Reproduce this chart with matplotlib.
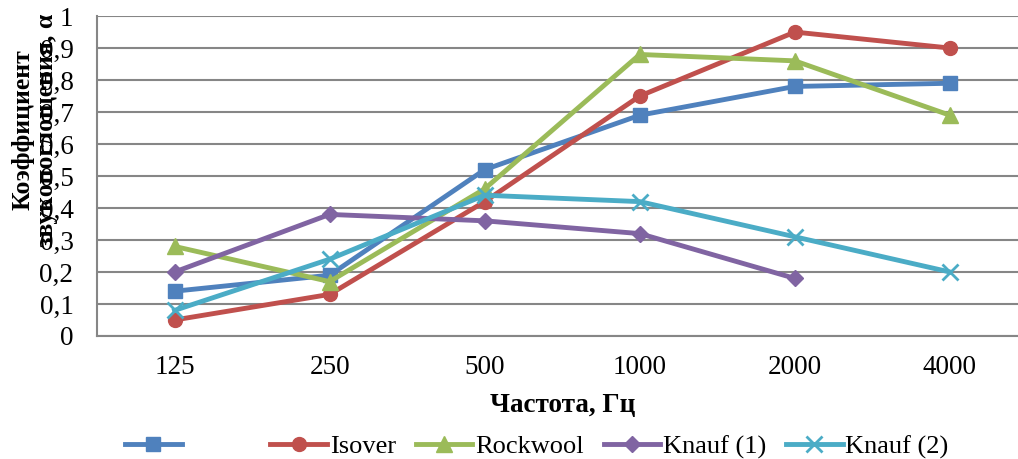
import numpy as np
import matplotlib.pyplot as plt
from matplotlib.ticker import FuncFormatter, MultipleLocator

plt.rcParams['font.family'] = ['Liberation Serif', 'DejaVu Serif']

# Frequencies (category axis)
freqs = ['125', '250', '500', '1000', '2000', '4000']

# Sound absorption coefficients
unnamed = [0.14, 0.19, 0.52, 0.69, 0.78, 0.79]
isover = [0.05, 0.13, 0.42, 0.75, 0.95, 0.90]
rockwool = [0.28, 0.17, 0.46, 0.88, 0.86, 0.69]
knauf1 = [0.20, 0.38, 0.36, 0.32, 0.18, np.nan]
knauf2 = [0.08, 0.24, 0.44, 0.42, 0.31, 0.20]

series = [
    ('          ', unnamed, '#4F81BD', 's', 10),
    ('Isover', isover, '#C0504D', 'o', 10),
    ('Rockwool', rockwool, '#9BBB59', '^', 11),
    ('Knauf (1)', knauf1, '#8064A2', 'D', 8),
    ('Knauf (2)', knauf2, '#4BACC6', 'x', 11),
]

fig = plt.figure(figsize=(10.18, 4.59), dpi=100)
ax = fig.add_axes([0.0953, 0.268, 0.914, 0.697])

x = np.arange(len(freqs))
for label, vals, color, marker, ms in series:
    kw = dict(markeredgecolor=color, markerfacecolor=color)
    if marker == 'x':
        kw['markeredgewidth'] = 2
    ax.plot(x, vals, color=color, linewidth=3.5, marker=marker,
            markersize=ms, label=label, **kw)

ax.set_xlim(-0.5, len(freqs) - 0.5)
ax.set_ylim(0, 1)
ax.set_xticks(x)
ax.set_xticklabels(freqs)
ax.yaxis.set_major_locator(MultipleLocator(0.1))
ax.yaxis.set_major_formatter(FuncFormatter(
    lambda v, p: '0' if abs(v) < 1e-9 else ('1' if abs(v - 1) < 1e-9
                                             else f'{v:.1f}'.replace('.', ','))))
ax.tick_params(axis='both', length=0, labelsize=19.5)
ax.tick_params(axis='y', pad=17)
ax.tick_params(axis='x', pad=14)

ax.grid(axis='y', color='#868686', linewidth=1.5)
ax.set_axisbelow(True)
for side in ['top', 'right']:
    ax.spines[side].set_visible(False)
for side in ['left', 'bottom']:
    ax.spines[side].set_color('#868686')
    ax.spines[side].set_linewidth(1.5)

ax.set_xlabel('Частота, Гц', fontsize=19.5, fontweight='bold', labelpad=9)
fig.text(0.034, 0.717, 'Коэффициент\nзвукопоглощения, α', rotation=90,
         ha='center', va='center', multialignment='center',
         fontsize=18.5, fontweight='bold', linespacing=1.0)

fig.legend(loc='center left', bbox_to_anchor=(0.1228, 0.027), ncol=5,
           frameon=False, fontsize=19, borderpad=0, borderaxespad=0,
           handlelength=2.15, handletextpad=0.1, columnspacing=0.75)

fig.savefig('out.png', dpi=100)
